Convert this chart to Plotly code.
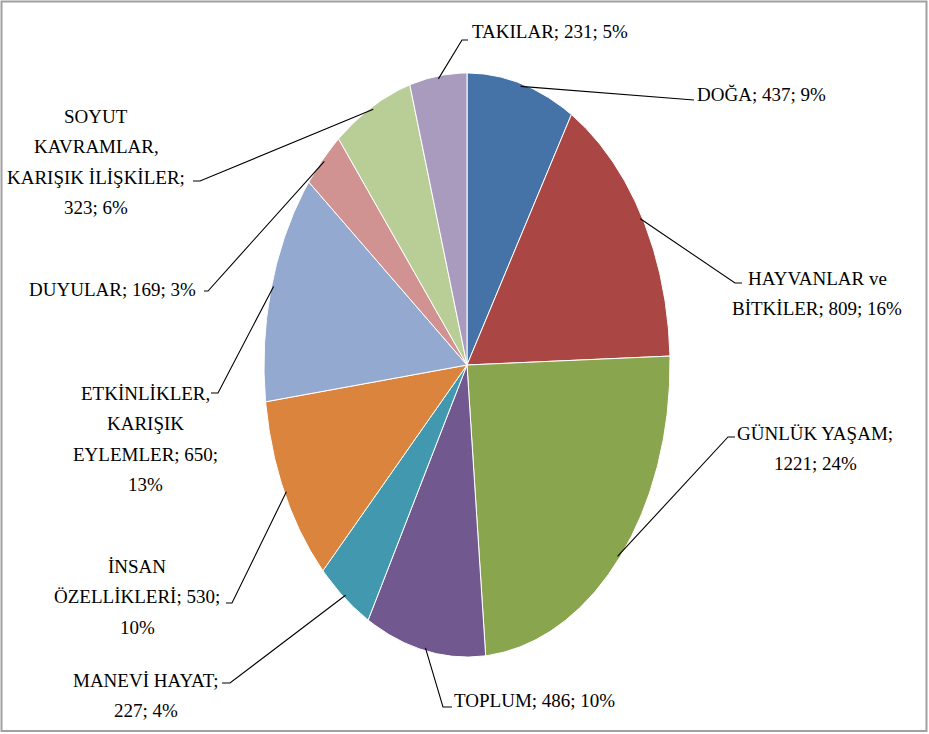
import numpy as np
import plotly.graph_objects as go

# ---------------- data ----------------
categories = ["DOĞA", "HAYVANLAR ve BİTKİLER", "GÜNLÜK YAŞAM", "TOPLUM", "MANEVİ HAYAT",
              "İNSAN ÖZELLİKLERİ", "ETKİNLİKLER, KARIŞIK EYLEMLER", "DUYULAR",
              "SOYUT KAVRAMLAR, KARIŞIK İLİŞKİLER", "TAKILAR"]
values = [437, 809, 1221, 486, 227, 530, 650, 169, 323, 231]

# ---------------- style / layout ----------------
colors = ["#4572A7", "#AA4643", "#89A54E", "#71588F", "#4198AF",
          "#DB843D", "#93A9CF", "#D19392", "#B9CD96", "#A99BBD"]
# words per text line for each label
line_breaks = [[3], [2, 3], [2, 2], [3], [2, 2], [1, 2, 1], [1, 1, 2, 1], [3], [1, 1, 2, 2], [3]]
# label centre (px) of first text line
label_pos = [(761, 94), (817, 278), (815, 433), (534, 700), (146, 680),
             (137, 566), (145, 393), (112, 289), (96, 116), (550, 31)]
# leader elbow points (px): (ax, ay, bx)
elbows = [(688, 100, 694), (735, 283, 742), (728, 437, 735), (443, 707, 452), (230, 683, 222),
          (232, 603, 226), (218, 393, 211), (208, 291, 204), (200, 181, 193), (462, 40, 468)]
LINE_H = 30.5
FONT = "Liberation Serif"

W, H = 929, 734
CX, CY, RX, RY = 467, 365, 203, 292


def to_data(px, py):
    return (px - CX) / RX, (CY - py) / RY


fig = go.Figure()
total = sum(values)
cum = 0
for i, v in enumerate(values):
    a0 = cum / total * 2 * np.pi
    a1 = (cum + v) / total * 2 * np.pi
    cum += v
    n = max(3, int((a1 - a0) * 180 / np.pi * 2))
    t = np.linspace(a0, a1, n)
    xs = np.concatenate([[0], np.sin(t), [0]])
    ys = np.concatenate([[0], np.cos(t), [0]])
    fig.add_trace(go.Scatter(x=xs, y=ys, mode="lines", fill="toself", fillcolor=colors[i],
                             line=dict(color="white", width=1), hoverinfo="skip", showlegend=False))

    # leader line
    am = (a0 + a1) / 2
    sx, sy = 0.99 * np.sin(am), 0.99 * np.cos(am)
    ax, ay, bx = elbows[i]
    axd, ayd = to_data(ax, ay)
    bxd, _ = to_data(bx, ay)
    fig.add_trace(go.Scatter(x=[sx, axd, bxd], y=[sy, ayd, ayd], mode="lines",
                             line=dict(color="black", width=1.1), hoverinfo="skip", showlegend=False))

    # label text
    pct = round(v / total * 100)
    words = f"{categories[i]}; {v}; {pct}%".split(" ")
    k = 0
    lx, ly = label_pos[i]
    for j, nw in enumerate(line_breaks[i]):
        txt = " ".join(words[k:k + nw])
        k += nw
        xd, yd = to_data(lx, ly + j * LINE_H)
        fig.add_annotation(x=xd, y=yd, xref="x", yref="y", text=txt, showarrow=False,
                           xanchor="center", yanchor="middle",
                           font=dict(family=FONT, size=19, color="black"))

x0d, _ = to_data(0, 0)
x1d, _ = to_data(W, 0)
_, y0d = to_data(0, H)
_, y1d = to_data(0, 0)

fig.update_layout(
    width=W, height=H,
    margin=dict(l=0, r=0, t=0, b=0),
    paper_bgcolor="white", plot_bgcolor="white",
    font=dict(family=FONT),
    xaxis=dict(range=[x0d, x1d], visible=False, fixedrange=True),
    yaxis=dict(range=[y0d, y1d], visible=False, fixedrange=True),
    shapes=[dict(type="rect", xref="paper", yref="paper",
                 x0=1.5 / W, x1=926.5 / W, y0=1 - 731 / H, y1=1 - 1.5 / H,
                 line=dict(color="#a0a0a0", width=2))],
)

fig.write_html("out.html", config={"displayModeBar": False},
               post_script="document.body.style.margin='0';document.body.style.overflow='hidden';")
